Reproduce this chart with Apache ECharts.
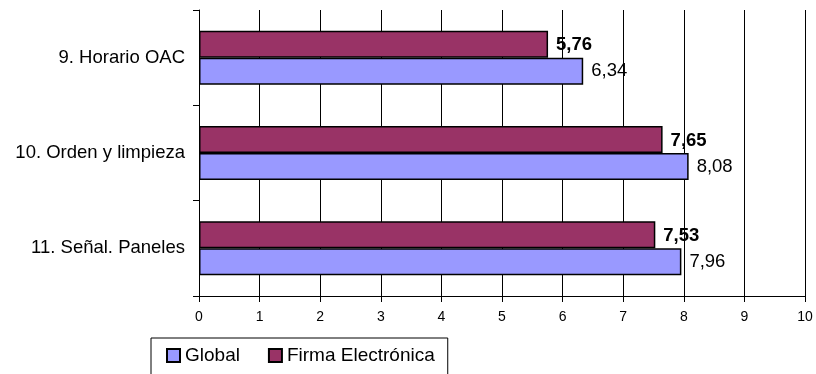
<!DOCTYPE html>
<html><head><meta charset="utf-8">
<script src="https://cdn.jsdelivr.net/npm/echarts@6/dist/echarts.min.js"></script>
<style>html,body{margin:0;padding:0;background:#fff}#c{width:816px;height:374px}</style>
</head><body><div id="c"></div>
<script>
const categories = ['11. Señal. Paneles', '10. Orden y limpieza', '9. Horario OAC'];
const globalValues = [7.96, 8.08, 6.34];
const firmaValues = [7.53, 7.65, 5.76];
const xTicks = [0,1,2,3,4,5,6,7,8,9,10];

const FONT = 'Liberation Sans, Arial, sans-serif';
const chart = echarts.init(document.getElementById('c'), null, {renderer:'canvas'});
const fmt = p => String(p.value).replace('.', ',');
chart.setOption({
  animation: false,
  backgroundColor: '#fff',
  textStyle: {fontFamily: FONT},
  grid: {left: 199, right: 11, top: 10, bottom: 78},
  legend: {
    left: 151, top: 338,
    data: ['Global', 'Firma Electrónica'],
    borderColor: '#000', borderWidth: 1,
    padding: [8, 13, 14, 15],
    itemWidth: 13, itemHeight: 13, itemGap: 28,
    icon: 'rect',
    textStyle: {fontSize: 19, color: '#000', fontFamily: FONT}
  },
  xAxis: {
    type: 'value', min: 0, max: 10, interval: 1,
    axisLine: {show: true, lineStyle: {color: '#000'}},
    axisTick: {show: true, length: 6, lineStyle: {color: '#000'}},
    axisLabel: {fontSize: 14, color: '#000', margin: 14, formatter: v => xTicks.includes(v) ? String(v) : ''},
    splitLine: {show: true, lineStyle: {color: '#000', width: 1}}
  },
  yAxis: {
    type: 'category', data: categories,
    axisLine: {show: true, lineStyle: {color: '#000'}},
    axisTick: {show: true, length: 6, lineStyle: {color: '#000'}},
    axisLabel: {fontSize: 18.5, color: '#000', margin: 14}
  },
  series: [
    {
      name: 'Firma Electrónica', type: 'bar', data: firmaValues,
      barWidth: 27, barGap: '0%',
      itemStyle: {color: '#993366', borderColor: '#000', borderWidth: 1.5},
      label: {show: true, position: 'right', distance: 8, fontSize: 18.5, fontWeight: 'bold', color: '#000', offset: [0, 1], formatter: fmt}
    },
    {
      name: 'Global', type: 'bar', data: globalValues,
      barWidth: 27, barGap: '0%',
      itemStyle: {color: '#9999FF', borderColor: '#000', borderWidth: 1.5},
      label: {show: true, position: 'right', distance: 8, fontSize: 18.5, color: '#000', formatter: fmt}
    }
  ]
});
</script></body></html>
